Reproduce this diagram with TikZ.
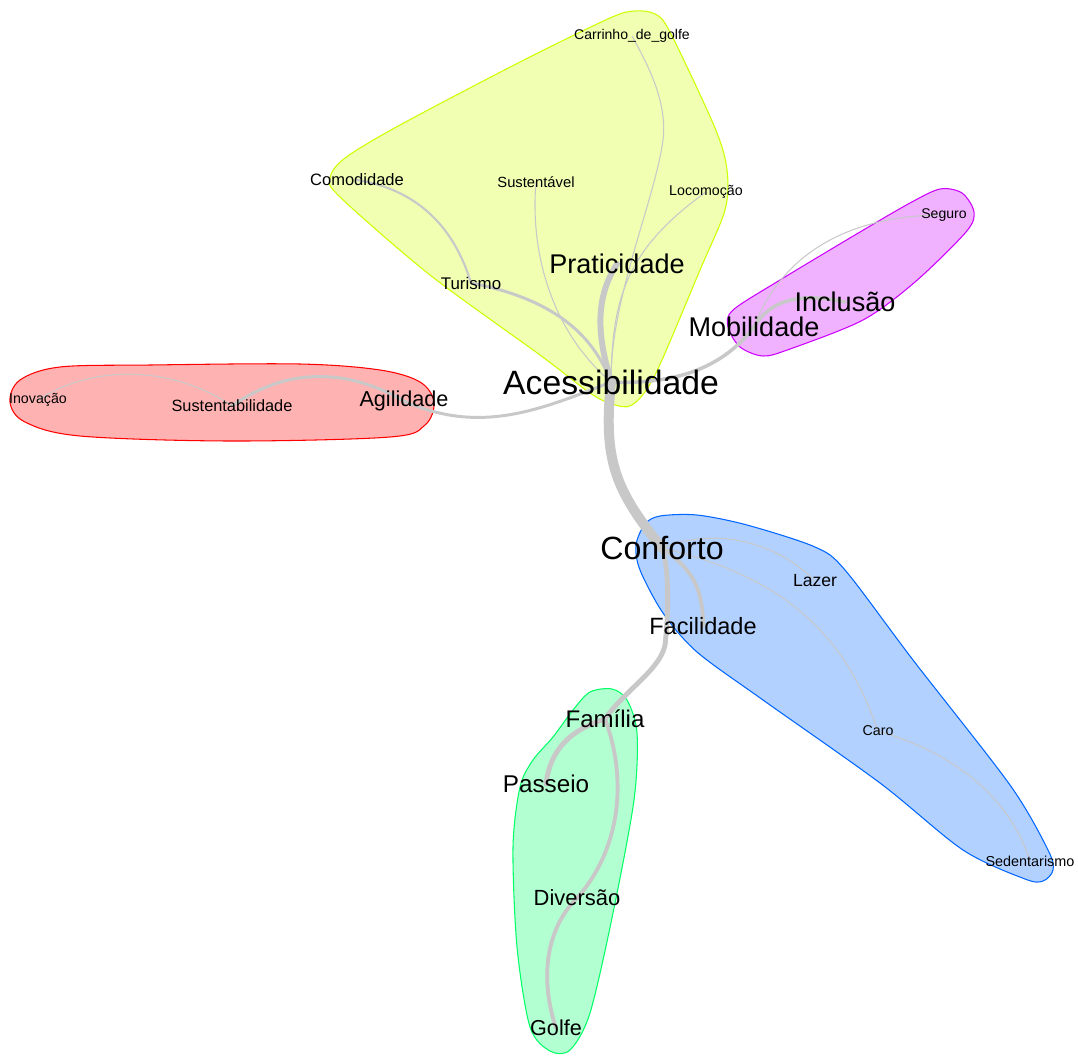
\documentclass[tikz,border=0pt]{standalone}
\usepackage{fontspec}
\setmainfont{Liberation Sans}
\pgfdeclarelayer{hulls}
\pgfdeclarelayer{edges}
\pgfsetlayers{hulls,edges,main}
\definecolor{edgec}{RGB}{200,200,200}
\definecolor{gred}{HTML}{FF0000}
\definecolor{gyel}{HTML}{CCFF00}
\definecolor{ggrn}{HTML}{00FF66}
\definecolor{gblu}{HTML}{0066FF}
\definecolor{gpur}{HTML}{CC00FF}
\tikzset{
  lbl/.style={inner sep=0pt, text=black, font=\fontsize{#1}{#1}\selectfont},
  lnk/.style={draw=edgec, line width=#1, line cap=round},
  hull/.style={draw=#1, fill=#1, fill opacity=0.3, line width=0.6pt},
}
\begin{document}
\begin{tikzpicture}[x=0.02cm,y=-0.02cm]
\useasboundingbox (0,0) rectangle (1078,1055);

% labels (vertices)
\node[lbl=19.2] (acc) at (611,382) {Acessibilidade};
\node[lbl=18.3] (conf) at (662,548) {Conforto};
\node[lbl=15.4] (prat) at (617,264) {Praticidade};
\node[lbl=15.4] (mob) at (754,327) {Mobilidade};
\node[lbl=15.4] (incl) at (845,302) {Inclusão};
\node[lbl=8] (seg) at (944,215) {Seguro};
\node[lbl=12.3] (agil) at (404,401) {Agilidade};
\node[lbl=9.3] (sust) at (232,406) {Sustentabilidade};
\node[lbl=8.1] (inov) at (38,400) {Inovação};
\node[lbl=13.4] (fac) at (703,626) {Facilidade};
\node[lbl=10] (laz) at (815,581) {Lazer};
\node[lbl=8.1] (caro) at (878,731) {Caro};
\node[lbl=8.2] (sed) at (1030,861) {Sedentarismo};
\node[lbl=13.7] (fam) at (605,719) {Família};
\node[lbl=13.8] (pas) at (546,784) {Passeio};
\node[lbl=12.5] (div) at (577,898) {Diversão};
\node[lbl=12.3] (golf) at (556,1028) {Golfe};
\node[lbl=9.4] (com) at (357,180) {Comodidade};
\node[lbl=8.4] (sustv) at (536,182) {Sustentável};
\node[lbl=8.1] (loco) at (706,192) {Locomoção};
\node[lbl=9.6] (tur) at (471,283) {Turismo};
\node[lbl=8] (carr) at (632,36) {Carrinho\_de\_golfe};

% group hulls
\begin{pgfonlayer}{hulls}
\path[hull=gyel] plot[smooth cycle, tension=0.5] coordinates {
 (635,11) (655,14) (670,32) (715,128) (727,170) (725,210) (700,270) (655,375)
 (632,405) (612,404) (590,393) (540,355) (430,275) (340,197) (330,178) (345,158)
 (400,125) (520,62) (610,18)};
\path[hull=gred] plot[smooth cycle, tension=0.55] coordinates {
 (20,380) (60,367) (150,365) (300,364) (380,370) (420,382) (434,402) (425,425)
 (390,437) (230,441) (80,436) (25,422) (10,402)};
\path[hull=gpur] plot[smooth cycle, tension=0.5] coordinates {
 (940,189) (962,193) (974,212) (966,232) (915,282) (863,320) (790,349) (763,356)
 (740,347) (728,327) (733,310) (780,280) (860,232) (910,203)};
\path[hull=gblu] plot[smooth cycle, tension=0.5] coordinates {
 (660,516) (697,515) (747,525) (815,547) (845,570) (913,660) (1010,785) (1048,850)
 (1053,870) (1043,881) (1025,879) (963,850) (880,783) (763,700) (697,652) (663,613)
 (640,570) (636,545) (645,524)};
\path[hull=ggrn] plot[smooth cycle, tension=0.5] coordinates {
 (590,692) (612,689) (627,700) (637,733) (634,800) (613,913) (590,1013) (570,1050)
 (550,1051) (530,1027) (517,947) (513,847) (520,787) (533,760) (553,737) (573,710)};
\end{pgfonlayer}

% edges
\begin{pgfonlayer}{edges}
\path[lnk=5.7pt] (acc.center) .. controls (603,460) and (615,490) .. (conf.center);
\path[lnk=3.4pt] (prat.center) .. controls (590,305) and (602,350) .. (acc.center);
\path[lnk=2.8pt] (conf.center) .. controls (670,570) and (668,620) .. (665,645)
   .. controls (660,670) and (625,690) .. (fam.center);
\path[lnk=2.2pt] (conf.center) .. controls (690,568) and (703,585) .. (fac.center);
\path[lnk=0.6pt] (conf.center) .. controls (720,525) and (780,545) .. (laz.center);
\path[lnk=0.6pt] (conf.center) .. controls (800,580) and (850,650) .. (caro.center);
\path[lnk=0.6pt] (caro.center) .. controls (960,755) and (1010,800) .. (sed.center);
\path[lnk=2.8pt] (fam.center) .. controls (570,730) and (550,750) .. (pas.center);
\path[lnk=2.2pt] (fam.center) .. controls (628,780) and (620,850) .. (div.center);
\path[lnk=2.2pt] (div.center) .. controls (545,930) and (540,980) .. (golf.center);
\path[lnk=1.7pt] (acc.center) .. controls (540,410) and (480,435) .. (agil.center);
\path[lnk=1.7pt] (agil.center) .. controls (350,370) and (290,365) .. (sust.center);
\path[lnk=0.6pt] (sust.center) .. controls (180,370) and (100,360) .. (inov.center);
\path[lnk=2pt] (acc.center) .. controls (680,385) and (725,365) .. (mob.center);
\path[lnk=2pt] (mob.center) .. controls (770,300) and (800,292) .. (incl.center);
\path[lnk=0.6pt] (mob.center) .. controls (775,270) and (830,215) .. (seg.center);
\path[lnk=1.7pt] (acc.center) .. controls (595,340) and (560,300) .. (tur.center);
\path[lnk=1.2pt] (tur.center) .. controls (455,230) and (420,190) .. (com.center);
\path[lnk=0.6pt] (acc.center) .. controls (550,330) and (530,250) .. (sustv.center);
\path[lnk=0.6pt] (acc.center) .. controls (610,300) and (655,200) .. (663,140)
   .. controls (668,100) and (645,60) .. (carr.center);
\path[lnk=0.6pt] (acc.center) .. controls (612,300) and (625,250) .. (loco.center);
\end{pgfonlayer}
\end{tikzpicture}
\end{document}
